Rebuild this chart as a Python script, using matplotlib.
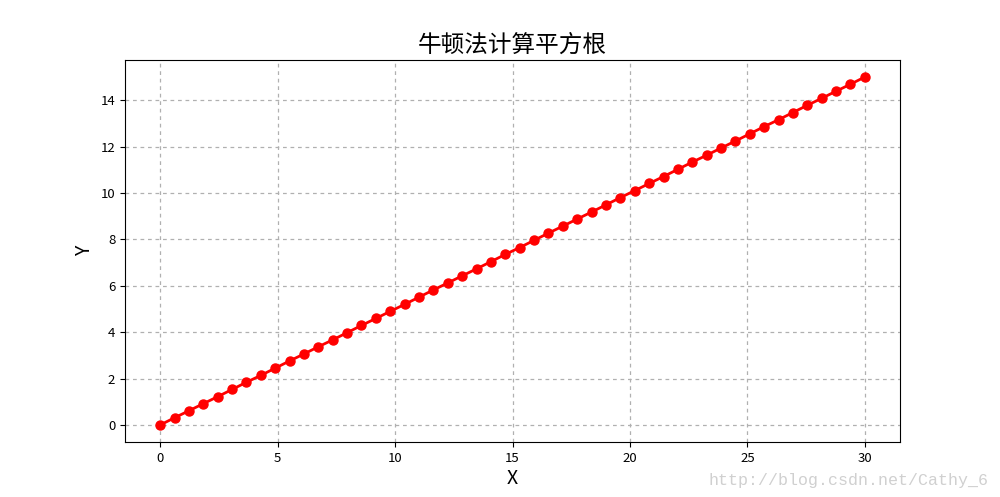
import matplotlib
matplotlib.use("Agg")
import matplotlib.pyplot as plt

plt.rcParams["font.family"] = ["Noto Sans CJK SC", "DejaVu Sans"]
plt.rcParams["axes.unicode_minus"] = False

# sample points (x) and computed square-root results (y)
x_vals = [0.0, 0.61, 1.22, 1.84, 2.45, 3.06, 3.67, 4.29, 4.90, 5.51,
          6.12, 6.73, 7.35, 7.96, 8.57, 9.18, 9.80, 10.41, 11.02, 11.63,
          12.24, 12.86, 13.47, 14.08, 14.69, 15.31, 15.92, 16.53, 17.14, 17.76,
          18.37, 18.98, 19.59, 20.20, 20.82, 21.43, 22.04, 22.65, 23.27, 23.88,
          24.49, 25.10, 25.71, 26.33, 26.94, 27.55, 28.16, 28.78, 29.39, 30.0]
y_vals = [0.0, 0.31, 0.61, 0.92, 1.22, 1.53, 1.84, 2.14, 2.45, 2.76,
          3.06, 3.37, 3.67, 3.98, 4.29, 4.59, 4.90, 5.20, 5.51, 5.82,
          6.12, 6.43, 6.73, 7.04, 7.35, 7.65, 7.96, 8.27, 8.57, 8.88,
          9.18, 9.49, 9.80, 10.10, 10.41, 10.71, 11.02, 11.33, 11.63, 11.94,
          12.24, 12.55, 12.86, 13.16, 13.47, 13.78, 14.08, 14.39, 14.69, 15.0]

fig, ax = plt.subplots(figsize=(10, 4.97), dpi=100)
ax.plot(x_vals, y_vals, color="red", linewidth=2, marker="o", markersize=6.5)

ax.grid(True, linestyle=(0, (3, 3)), color="#b0b0b0", linewidth=0.9)
ax.set_title("牛顿法计算平方根", fontsize=17)
ax.set_xlabel("X", fontsize=14, labelpad=2)
ax.set_ylabel("Y", fontsize=14)
ax.tick_params(labelsize=9.5)

fig.text(0.989, 0.018, "http://blog.csdn.net/Cathy_6", ha="right", va="bottom",
         fontsize=12, color="#d0d0d0", family="Liberation Mono")

plt.savefig("out.png", dpi=100)
plt.close()
